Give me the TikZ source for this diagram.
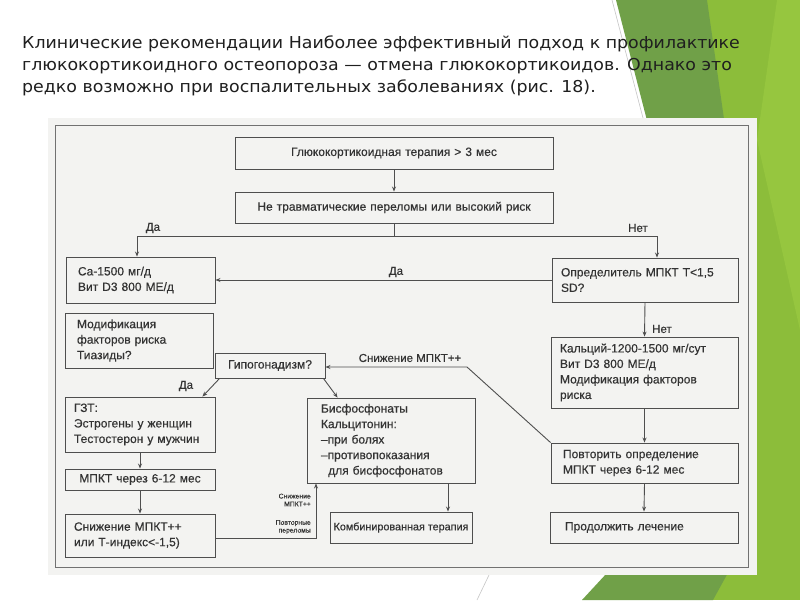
\documentclass[tikz,border=0pt]{standalone}
\usepackage{fontspec}
\setmainfont{Liberation Sans}
\newfontfamily\diagfont[FakeBold=0.4]{Liberation Sans}
\newfontfamily\titlefont[FakeStretch=1.06]{DejaVu Sans}
\usetikzlibrary{arrows.meta}
\definecolor{dkgreen}{HTML}{70A048}
\definecolor{ltgreen}{HTML}{8CBD3A}
\definecolor{lgreen2}{HTML}{96C63F}
\definecolor{paper}{HTML}{F3F3F1}
\definecolor{ink}{HTML}{333333}
\definecolor{wire}{HTML}{4E4E4E}
\tikzset{
  box/.style={draw=wire, line width=0.9pt, rectangle, text=ink, inner ysep=2pt,
    font=\diagfont\fontsize{12}{15.5}\selectfont},
  lbox/.style={box, align=left, inner xsep=9pt},
  cbox/.style={box, align=center, inner xsep=4pt},
  conn/.style={draw=wire, line width=0.9pt},
  arr/.style={conn, -{Stealth[length=5pt,width=4pt]}},
  lab/.style={text=ink, inner sep=1pt, font=\diagfont\fontsize{11.5}{13}\selectfont},
  small/.style={text=ink, inner sep=0pt, align=right, font=\diagfont\fontsize{6.8}{7.8}\selectfont},
}
\begin{document}
\begin{tikzpicture}[x=1pt,y=-1pt]
\useasboundingbox (0,0) rectangle (800,600);
\fill[white] (0,0) rectangle (800,600);
% green theme facets
\fill[ltgreen] (700,0) -- (800,0) -- (800,600) -- (700,600) -- cycle;
\fill[lgreen2] (777,0) -- (800,0) -- (800,330) -- (757,140) -- cycle;
\fill[dkgreen] (616,0) -- (707,0) -- (727,140) -- (652,140) -- cycle;
\fill[dkgreen] (619,560) -- (735,560) -- (713,600) -- (582,600) -- cycle;
\draw[gray!45, line width=0.6pt] (612,0) -- (643,118);
\draw[gray!45, line width=0.6pt] (477,600) -- (489,575);
% title
\node[anchor=north west, align=left, text=black!88, inner sep=0pt,
      font=\titlefont\fontsize{16.4}{22}\selectfont] (title) at (22,36)
 {Клинические рекомендации Наиболее эффективный подход к профилактике\\
  глюкокортикоидного остеопороза — отмена глюкокортикоидов. Однако это\\
  редко возможно при воспалительных заболеваниях (рис. 18).};
% scanned page
\fill[paper] (48,118) rectangle (757,575);
\draw[wire!80, line width=0.9pt] (55,125) rectangle (748,567);
% boxes
\node[cbox, text width=310pt, minimum height=32pt] (b1) at (394,153) {Глюкокортикоидная терапия > 3 мес};
\node[cbox, text width=310pt, minimum height=31pt] (b2) at (394,207.5) {Не травматические переломы или высокий риск};
\node[lbox, inner xsep=12pt, text width=125pt, minimum height=46pt] (ca) at (140.5,280) {Ca-1500 мг/д\\Вит D3 800 МЕ/д};
\node[lbox, text width=168pt, minimum height=44pt] (opr) at (645,280) {Определитель МПКТ Т<1,5\\SD?};
\node[lbox, inner xsep=12pt, text width=124pt, minimum height=55pt] (mod) at (139,340.5) {Модификация\\факторов риска\\Тиазиды?};
\node[cbox, text width=102pt, minimum height=25pt] (gip) at (270,365.5) {Гипогонадизм?};
\node[lbox, text width=132pt, minimum height=55pt] (gzt) at (140,424.5) {ГЗТ:\\Эстрогены у женщин\\Тестостерон у мужчин};
\node[lbox, inner xsep=14pt, text width=140pt, minimum height=85pt] (bis) at (391,440.5) {Бисфосфонаты\\Кальцитонин:\\–при болях\\–противопоказания\\\hspace*{0.6em}для бисфосфонатов};
\node[lbox, inner xsep=9pt, text width=169pt, minimum height=71pt] (kal) at (644.5,372.5) {Кальций-1200-1500 мг/сут\\Вит D3 800 МЕ/д\\Модификация факторов\\риска};
\node[lbox, inner xsep=12pt, text width=163pt, minimum height=40pt] (pov) at (644.5,463) {Повторить определение\\МПКТ через 6-12 мес};
\node[cbox, text width=142pt, minimum height=21pt, inner ysep=1pt] (mpkt) at (140,479.5) {МПКТ через 6-12 мес};
\node[lbox, text width=132pt, minimum height=43pt] (sniz) at (140,535.5) {Снижение МПКТ++\\или Т-индекс<-1,5)};
\node[box, inner xsep=2pt, minimum width=142pt, minimum height=31pt, font=\diagfont\fontsize{10.8}{14}\selectfont] (komb) at (401,527.5) {Комбинированная терапия};
\node[lbox, inner xsep=15pt, text width=158pt, minimum height=31pt] (prod) at (644,527.5) {Продолжить лечение};
% junction coordinates
\coordinate (j) at (394,236);
\coordinate (jL) at (137,236);
\coordinate (jR) at (657,236);
\coordinate (dg) at (467,367);
\coordinate (up) at (316,538);
\coordinate (bk) at (448,500);
% connectors
\draw[arr] (b1.south) -- (b2.north);
\draw[conn] (b2.south) -- (j);
\draw[arr] (j) -- (jL) -- (jL |- ca.north);
\draw[arr] (j) -- (jR) -- (jR |- opr.north);
\draw[arr] (opr.west) -- (ca.east);
\draw[arr] (opr.south) -- (kal.north);
\draw[arr] (kal.south) -- (pov.north);
\draw[arr] (pov.south) -- (prod.north);
\draw[arr] (pov.north west) -- (dg) -- (gip.east |- dg);
\draw[arr] ([xshift=5pt]gip.south west) -- ([xshift=-13pt]gzt.north east);
\draw[arr] ([xshift=-2pt]gip.south east) -- ([xshift=31pt]bis.north west);
\draw[arr] (gzt.south) -- (mpkt.north);
\draw[arr] (mpkt.south) -- (sniz.north);
\draw[arr] (sniz.east |- up) -- (up) -- (up |- bis.south);
\draw[arr] (bis.south -| bk) -- (komb.north -| bk);
% labels
\node[lab] (l1) at (153,228) {Да};
\node[lab] (l2) at (638,228) {Нет};
\node[lab] (l3) at (396,272) {Да};
\node[lab, anchor=west] (l4) at (651,329) {Нет};
\node[lab] (l5) at (410,358) {Снижение МПКТ++};
\node[lab] (l6) at (186,386) {Да};
\node[small, anchor=east] (l7) at (311,500) {Снижение\\МПКТ++};
\node[small, anchor=east] (l8) at (311,527) {Повторные\\переломы};
\end{tikzpicture}
\end{document}
